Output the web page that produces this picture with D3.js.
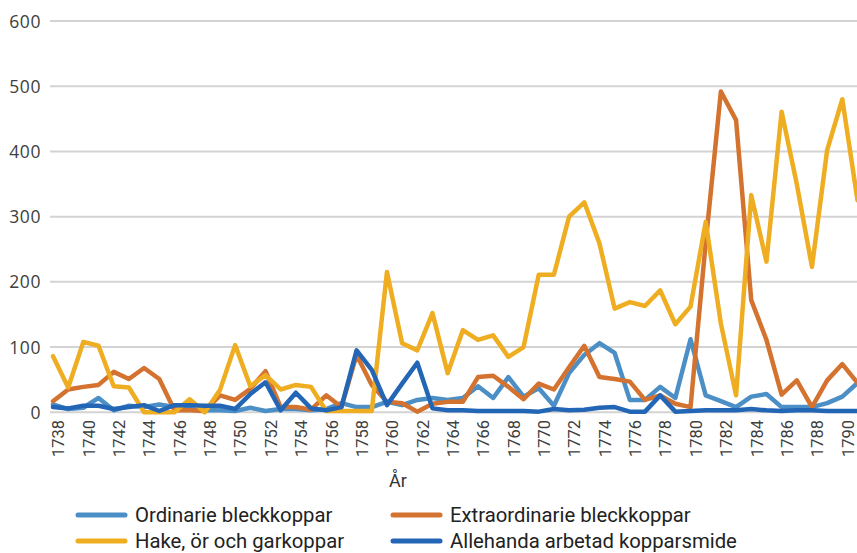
<!DOCTYPE html>
<html>
<head>
<meta charset="utf-8">
<script src="https://cdn.jsdelivr.net/npm/d3@7"></script>
<style>
  body { margin: 0; background: #fff; }
  svg { display: block; }
  .tick text { fill: #404040; }
</style>
</head>
<body>
<div class="chart"></div>
<script>
var svgWidth = 857;
var svgHeight = 553;

// data, 1738-1791
var years = d3.range(1738, 1792);
var yTicks = [0, 100, 200, 300, 400, 500, 600];
var xTickYears = d3.range(1738, 1791, 2);

var seriesNames = ["Ordinarie bleckkoppar", "Extraordinarie bleckkoppar",
    "Hake, ör och garkoppar", "Allehanda arbetad kopparsmide"];
var seriesColors = ["#4b8fc6", "#d4722f", "#efad22", "#2366b6"];

var ordinarie = [12, 5, 7, 22, 3, 10, 8, 12, 8, 5, 3, 3, 2, 7, 2, 5, 5, 3, 5, 14,
    8, 8, 16, 11, 19, 22, 19, 22, 40, 22, 54, 24, 37, 10, 60, 88, 106, 91, 19, 19,
    39, 22, 112, 26, 17, 8, 24, 28, 8, 8, 8, 14, 24, 45];
var extraordinarie = [17, 35, 39, 42, 62, 51, 68, 51, 3, 3, 2, 26, 19, 36, 63, 8, 8, 4, 26, 8,
    88, 42, 16, 14, 1, 13, 16, 16, 54, 56, 39, 20, 44, 35, 69, 102, 54, 51, 47, 19,
    26, 13, 8, 260, 492, 448, 172, 111, 27, 49, 8, 49, 74, 45];
var hake = [86, 38, 108, 102, 40, 38, 0, 0, 0, 20, 0, 34, 103, 40, 57, 35, 42, 39, 2, 2,
    2, 2, 215, 106, 95, 152, 60, 126, 111, 118, 85, 100, 211, 211, 300, 322, 259, 159, 169, 163,
    187, 135, 162, 292, 136, 26, 333, 231, 461, 350, 223, 402, 480, 325];
var allehanda = [8, 6, 10, 10, 5, 8, 11, 2, 11, 11, 10, 10, 5, 28, 46, 3, 30, 6, 3, 8,
    95, 65, 11, 44, 76, 6, 3, 3, 2, 2, 2, 2, 1, 5, 3, 4, 7, 8, 1, 1,
    26, 1, 2, 3, 3, 3, 5, 3, 2, 3, 3, 2, 2, 2];
var seriesValues = [ordinarie, extraordinarie, hake, allehanda];

var svg = d3.select(".chart")
    .append("svg")
    .attr("width", svgWidth)
    .attr("height", svgHeight);

var xScale = d3.scalePoint()
    .domain(years)
    .range([53, 857.5]);

var yScale = d3.scaleLinear()
    .domain([0, 600])
    .range([412.3, 21]);

// horizontal grid lines
svg.append("g").selectAll("line")
    .data(yTicks)
    .enter()
    .append("line")
    .attr("x1", 50)
    .attr("x2", svgWidth)
    .attr("y1", d => yScale(d))
    .attr("y2", d => yScale(d))
    .attr("stroke", "#d3d3d3")
    .attr("stroke-width", 2);

// y axis labels
var leftAxis = d3.axisLeft(yScale)
    .tickValues(yTicks)
    .tickSize(0)
    .tickPadding(0);

svg.append("g")
    .attr("transform", "translate(41,0)")
    .call(leftAxis)
    .call(g => g.select(".domain").remove())
    .selectAll("text")
    .attr("font-family", "'Open Sans', sans-serif")
    .attr("font-size", 17.5)
    .attr("letter-spacing", 0.6)
    .attr("dy", "0.35em");

// x axis labels, rotated
var bottomAxis = d3.axisBottom(xScale)
    .tickValues(xTickYears)
    .tickSize(0)
    .tickPadding(0);

svg.append("g")
    .attr("transform", "translate(0,420)")
    .call(bottomAxis)
    .call(g => g.select(".domain").remove())
    .selectAll("text")
    .attr("font-family", "Roboto, sans-serif")
    .attr("font-size", 16.5)
    .attr("text-anchor", "end")
    .attr("transform", "rotate(-90)")
    .attr("x", 0)
    .attr("y", 5)
    .attr("dy", "0.35em");

svg.append("text")
    .attr("x", 398)
    .attr("y", 487)
    .attr("text-anchor", "middle")
    .attr("font-family", "Roboto, sans-serif")
    .attr("font-size", 18)
    .attr("fill", "#333")
    .text("År");

// the lines
var line = d3.line()
    .x((d, i) => xScale(years[i]))
    .y(d => yScale(d));

svg.append("g").selectAll("path")
    .data(seriesValues)
    .enter()
    .append("path")
    .attr("d", d => line(d))
    .attr("fill", "none")
    .attr("stroke", (d, i) => seriesColors[i])
    .attr("stroke-width", 4.5)
    .attr("stroke-linejoin", "round")
    .attr("stroke-linecap", "round");

// legend
var legendPos = [[78, 515], [393, 515], [78, 541], [393, 541]];

var legend = svg.append("g").selectAll("g")
    .data(seriesNames)
    .enter()
    .append("g")
    .attr("transform", (d, i) => `translate(${legendPos[i][0]}, ${legendPos[i][1]})`);

legend.append("line")
    .attr("x1", 0)
    .attr("x2", 47)
    .attr("stroke", (d, i) => seriesColors[i])
    .attr("stroke-width", 5)
    .attr("stroke-linecap", "round");

legend.append("text")
    .attr("x", 57)
    .attr("dy", "0.35em")
    .attr("font-family", "Roboto, sans-serif")
    .attr("font-size", 20.3)
    .attr("fill", "#222")
    .text(d => d);
</script>
</body>
</html>
